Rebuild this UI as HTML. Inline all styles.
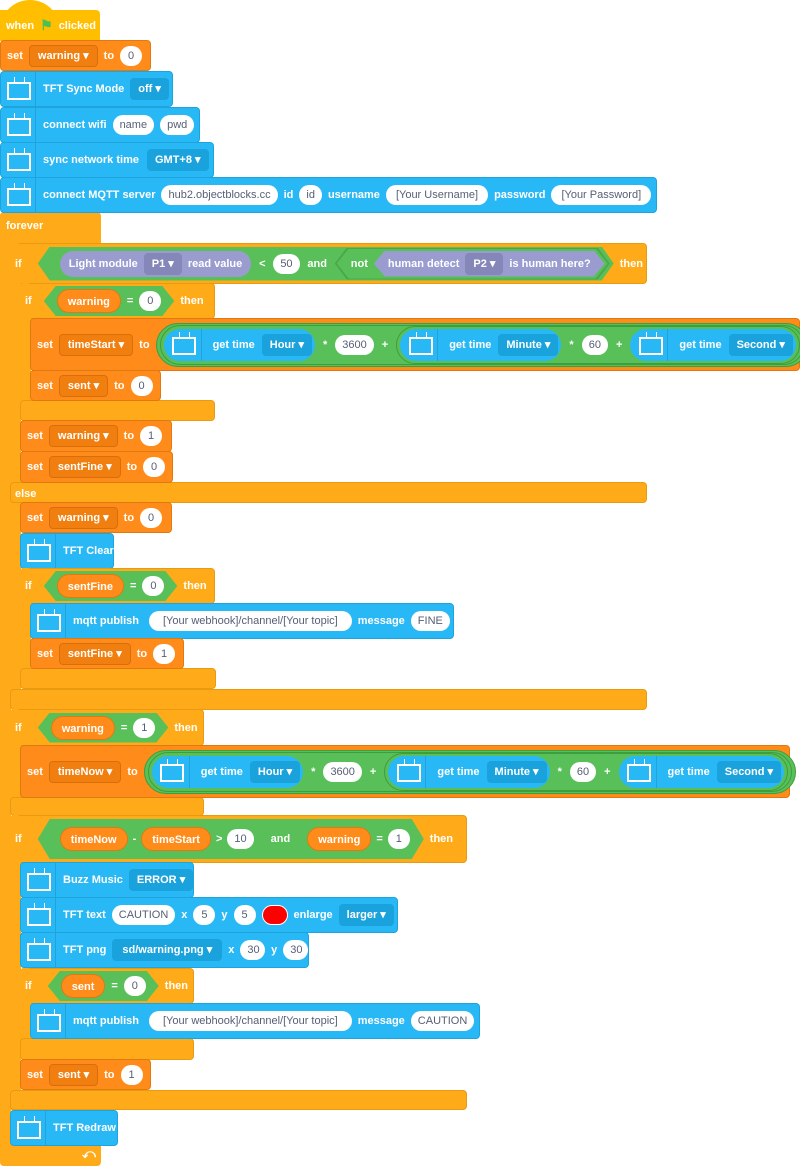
<!DOCTYPE html>
<html><head><meta charset="utf-8">
<style>
*{box-sizing:border-box;margin:0;padding:0}
body{width:800px;height:1166px;background:#fff;position:relative;overflow:hidden;font:bold 11px "Liberation Sans",sans-serif;color:#fff}
.b{position:absolute;border-radius:4px}
.f{display:flex;align-items:center;gap:6px;height:100%;white-space:nowrap;padding-left:6px}
.y{background:#FFBF00}
.o{background:#FF8C1A;border:1px solid #e07a10}
.c{background:#FFAB19}
.u{background:#29B8F6;border:1px solid #1ea4dc}
.p{background:#fff;color:#575e75;border-radius:11px;padding:0 7px;height:20px;line-height:20px;font-weight:normal;display:inline-block;min-width:22px;text-align:center}
.d{border-radius:4px;padding:0 8px;height:22px;line-height:22px;display:inline-block}
.d:after{content:" \25BE"}
.do{background:#F07F10;border:1px solid #d86f0c;line-height:20px}
.db{background:#1aa2dd}
.dp{background:#8587b8}
.tvw{width:34px;height:100%;display:flex;align-items:center;justify-content:center;border-right:1px solid rgba(0,0,0,.12);margin-left:-5px;margin-right:4px;flex:none}
.f>.tvw{margin-right:1px}
.tv{display:block;width:24px;height:18px;border:2.5px solid #fff;position:relative;margin-top:3px}
.tv:before{content:"";position:absolute;left:5px;top:-7px;width:9px;height:5px;border-left:1.5px solid #fff;border-right:1.5px solid #fff}
.hx{display:inline-flex;align-items:center;gap:6px;background:#59C059;height:30px;padding:0 13px;clip-path:polygon(12px 0,calc(100% - 12px) 0,100% 50%,calc(100% - 12px) 100%,12px 100%,0 50%)}
.ro{display:inline-block;background:#FF8C1A;border-radius:13px;padding:0 10px;height:24px;line-height:24px;border:1px solid #e07a10}
.rg{display:inline-flex;align-items:center;gap:6px;background:#59C059;border:1px solid #3d9e3d;border-radius:22px;padding:0 4px;height:38px}
.rb{display:inline-flex;align-items:center;gap:7px;background:#29B8F6;border-radius:16px;height:32px;padding:0 3px 0 4px}
.rb .tvw{height:32px;margin-left:0}
.rp{display:inline-flex;align-items:center;gap:6px;background:#9A9CD0;border-radius:14px;height:26px;padding:0 9px}
.hp{display:inline-flex;align-items:center;gap:6px;background:#9A9CD0;height:26px;padding:0 14px;clip-path:polygon(11px 0,calc(100% - 11px) 0,100% 50%,calc(100% - 11px) 100%,11px 100%,0 50%)}
</style></head><body>

<div class="b c" style="left:0;top:212px;width:101px;height:32px;border-radius:4px 4px 0 0"></div>
<div class="b c" style="left:0;top:212px;width:11px;height:954px;border-radius:4px 0 0 4px"></div>
<div class="b c" style="left:0;top:1140px;width:101px;height:26px"></div>
<div class="b" style="left:6px;top:214px;height:24px"><div class="f" style="padding:0">forever</div></div>
<div class="b" style="left:82px;top:1146px;font-size:13px">&#10554;</div>

<div class="b y" style="left:0;top:10px;width:100px;height:31px;border-radius:0 4px 0 0"></div>
<div class="b y" style="left:0;top:0;width:60px;height:30px;border-radius:30px 30px 0 0"></div>
<div class="b" style="left:0;top:10px;height:31px"><div class="f">when <span style="color:#4cbf56;font-size:14px">&#9873;</span> clicked</div></div>

<div class="b o" style="left:0;top:40px;width:151px;height:31px"><div class="f">set <span class="d do">warning</span> to <span class="p">0</span></div></div>
<div class="b u" style="left:0;top:71px;width:173px;height:36px"><div class="f"><span class="tvw"><i class="tv"></i></span> TFT Sync Mode <span class="d db">off</span></div></div>
<div class="b u" style="left:0;top:107px;width:200px;height:36px"><div class="f"><span class="tvw"><i class="tv"></i></span> connect wifi <span class="p">name</span><span class="p">pwd</span></div></div>
<div class="b u" style="left:0;top:142px;width:214px;height:36px"><div class="f"><span class="tvw"><i class="tv"></i></span> sync network time <span class="d db" style="margin-left:2px">GMT+8</span></div></div>
<div class="b u" style="left:0;top:177px;width:657px;height:36px"><div class="f"><span class="tvw"><i class="tv"></i></span> connect MQTT server <span class="p">hub2.objectblocks.cc</span> id <span class="p">id</span> username <span class="p" style="padding:0 10px">[Your Username]</span> password <span class="p" style="padding:0 10px">[Your Password]</span></div></div>

<div class="b c" style="left:10px;top:243px;width:637px;height:41px;border:1px solid #e89a10"></div>
<div class="b c" style="left:10px;top:243px;width:11px;height:466px"></div>
<div class="b c" style="left:10px;top:482px;width:637px;height:21px;border:1px solid #e89a10"></div>
<div class="b c" style="left:10px;top:689px;width:637px;height:21px;border:1px solid #e89a10"></div>
<div class="b" style="left:15px;top:488px">else</div>
<div class="b" style="left:15px;top:243px;height:41px"><div class="f" style="padding:0">if <span class="hx" style="width:576px;height:34px;margin-left:10px;justify-content:space-between;padding:0 4px 0 22px"><span class="rp">Light module <span class="d dp">P1</span> read value</span> &lt; <span class="p">50</span> and <span class="hx" style="background:#4aa84a;padding:0 2px;height:32px"><span class="hx" style="height:30px;padding:0 3px 0 14px">not <span class="hp">human detect <span class="d dp">P2</span> is human here?</span></span></span></span> then</div></div>

<div class="b c" style="left:20px;top:283px;width:195px;height:36px;border:1px solid #e89a10"></div>
<div class="b c" style="left:20px;top:283px;width:11px;height:137px"></div>
<div class="b c" style="left:20px;top:400px;width:195px;height:21px;border:1px solid #e89a10"></div>
<div class="b" style="left:25px;top:283px;height:36px"><div class="f" style="padding:0">if <span class="hx" style="margin-left:6px"><span class="ro">warning</span> = <span class="p">0</span></span> then</div></div>

<div class="b o" style="left:30px;top:318px;width:770px;height:53px"><div class="f">set <span class="d do">timeStart</span> to <span class="rg" style="height:44px;padding:0 3px"><span class="rg" style="height:40px;padding:0 3px;gap:8px"><span class="rb"><span class="tvw"><i class="tv"></i></span> get time <span class="d db">Hour</span></span> * <span class="p">3600</span> + <span class="rg" style="padding:0 3px;gap:8px"><span class="rb"><span class="tvw"><i class="tv"></i></span> get time <span class="d db">Minute</span></span> * <span class="p">60</span> + <span class="rb"><span class="tvw"><i class="tv"></i></span> get time <span class="d db">Second</span></span></span></span></span></div></div>
<div class="b o" style="left:30px;top:370px;width:131px;height:31px"><div class="f">set <span class="d do">sent</span> to <span class="p">0</span></div></div>

<div class="b o" style="left:20px;top:420px;width:152px;height:32px"><div class="f">set <span class="d do">warning</span> to <span class="p">1</span></div></div>
<div class="b o" style="left:20px;top:451px;width:153px;height:32px"><div class="f">set <span class="d do">sentFine</span> to <span class="p">0</span></div></div>

<div class="b o" style="left:20px;top:502px;width:152px;height:31px"><div class="f">set <span class="d do">warning</span> to <span class="p">0</span></div></div>
<div class="b u" style="left:20px;top:533px;width:94px;height:36px"><div class="f"><span class="tvw"><i class="tv"></i></span> TFT Clear</div></div>

<div class="b c" style="left:20px;top:568px;width:195px;height:36px;border:1px solid #e89a10"></div>
<div class="b c" style="left:20px;top:568px;width:11px;height:120px"></div>
<div class="b c" style="left:20px;top:668px;width:196px;height:21px;border:1px solid #e89a10"></div>
<div class="b" style="left:25px;top:568px;height:36px"><div class="f" style="padding:0">if <span class="hx" style="margin-left:6px"><span class="ro">sentFine</span> = <span class="p">0</span></span> then</div></div>
<div class="b u" style="left:30px;top:603px;width:424px;height:36px"><div class="f"><span class="tvw"><i class="tv"></i></span> mqtt publish <span class="p" style="padding:0 14px;margin-left:4px">[Your webhook]/channel/[Your topic]</span> message <span class="p">FINE</span></div></div>
<div class="b o" style="left:30px;top:638px;width:154px;height:31px"><div class="f">set <span class="d do">sentFine</span> to <span class="p">1</span></div></div>

<div class="b c" style="left:10px;top:709px;width:194px;height:37px;border:1px solid #e89a10"></div>
<div class="b c" style="left:10px;top:709px;width:11px;height:106px"></div>
<div class="b c" style="left:10px;top:797px;width:194px;height:19px;border:1px solid #e89a10"></div>
<div class="b" style="left:15px;top:709px;height:37px"><div class="f" style="padding:0">if <span class="hx" style="margin-left:10px"><span class="ro">warning</span> = <span class="p">1</span></span> then</div></div>
<div class="b o" style="left:20px;top:745px;width:770px;height:53px"><div class="f">set <span class="d do">timeNow</span> to <span class="rg" style="height:44px;padding:0 3px"><span class="rg" style="height:40px;padding:0 3px;gap:8px"><span class="rb"><span class="tvw"><i class="tv"></i></span> get time <span class="d db">Hour</span></span> * <span class="p">3600</span> + <span class="rg" style="padding:0 3px;gap:8px"><span class="rb"><span class="tvw"><i class="tv"></i></span> get time <span class="d db">Minute</span></span> * <span class="p">60</span> + <span class="rb"><span class="tvw"><i class="tv"></i></span> get time <span class="d db">Second</span></span></span></span></span></div></div>

<div class="b c" style="left:10px;top:815px;width:457px;height:48px;border:1px solid #e89a10"></div>
<div class="b c" style="left:10px;top:815px;width:11px;height:296px"></div>
<div class="b c" style="left:10px;top:1090px;width:457px;height:20px;border:1px solid #e89a10"></div>
<div class="b" style="left:15px;top:815px;height:48px"><div class="f" style="padding:0">if <span class="hx" style="margin-left:10px;height:40px;padding:0 2px 0 10px;gap:5px"><span class="hx" style="height:34px;padding:0 12px;gap:5px;background:#59C059"><span class="ro">timeNow</span> - <span class="ro">timeStart</span> &gt; <span class="p">10</span></span> and <span class="hx" style="height:34px;padding:0 12px;gap:5px"><span class="ro">warning</span> = <span class="p">1</span></span></span> then</div></div>

<div class="b u" style="left:20px;top:862px;width:174px;height:36px"><div class="f"><span class="tvw"><i class="tv"></i></span> Buzz Music <span class="d db">ERROR</span></div></div>
<div class="b u" style="left:20px;top:897px;width:378px;height:36px"><div class="f"><span class="tvw"><i class="tv"></i></span> TFT text <span class="p">CAUTION</span> x <span class="p">5</span> y <span class="p">5</span> <span style="display:inline-block;width:26px;height:20px;border-radius:10px;background:#f00;border:1px solid #fff"></span> enlarge <span class="d db">larger</span></div></div>
<div class="b u" style="left:20px;top:932px;width:289px;height:36px"><div class="f"><span class="tvw"><i class="tv"></i></span> TFT png <span class="d db" style="padding:0 10px">sd/warning.png</span> x <span class="p">30</span> y <span class="p">30</span></div></div>

<div class="b c" style="left:20px;top:968px;width:174px;height:36px;border:1px solid #e89a10"></div>
<div class="b c" style="left:20px;top:968px;width:11px;height:92px"></div>
<div class="b c" style="left:20px;top:1038px;width:174px;height:22px;border:1px solid #e89a10"></div>
<div class="b" style="left:25px;top:968px;height:36px"><div class="f" style="padding:0">if <span class="hx" style="margin-left:10px"><span class="ro">sent</span> = <span class="p">0</span></span> then</div></div>
<div class="b u" style="left:30px;top:1003px;width:450px;height:36px"><div class="f"><span class="tvw"><i class="tv"></i></span> mqtt publish <span class="p" style="padding:0 14px;margin-left:4px">[Your webhook]/channel/[Your topic]</span> message <span class="p">CAUTION</span></div></div>
<div class="b o" style="left:20px;top:1059px;width:131px;height:31px"><div class="f">set <span class="d do">sent</span> to <span class="p">1</span></div></div>

<div class="b u" style="left:10px;top:1110px;width:108px;height:36px"><div class="f"><span class="tvw"><i class="tv"></i></span> TFT Redraw</div></div>

</body></html>
